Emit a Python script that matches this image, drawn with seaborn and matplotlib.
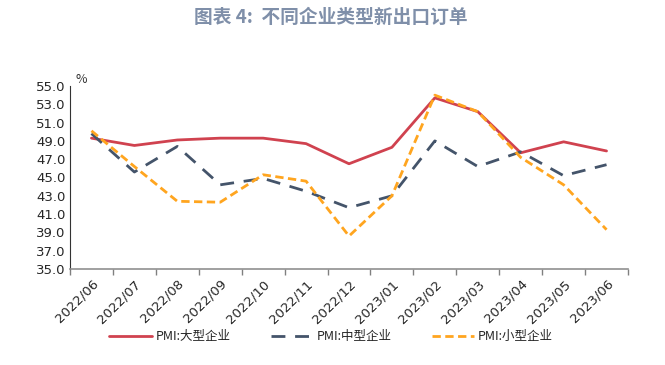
import matplotlib
matplotlib.use("Agg")
import matplotlib.pyplot as plt
import seaborn as sns
import pandas as pd
import numpy as np

months = ["2022/06", "2022/07", "2022/08", "2022/09", "2022/10", "2022/11", "2022/12",
          "2023/01", "2023/02", "2023/03", "2023/04", "2023/05", "2023/06"]
large = [49.3, 48.5, 49.1, 49.3, 49.3, 48.7, 46.5, 48.3, 53.7, 52.2, 47.7, 48.9, 47.9]
medium = [49.8, 45.6, 48.4, 44.2, 44.9, 43.5, 41.7, 43.0, 49.0, 46.2, 47.8, 45.2, 46.4]
small = [50.1, 46.2, 42.4, 42.3, 45.3, 44.6, 38.6, 43.0, 54.0, 52.2, 47.2, 44.2, 39.3]
series_names = ["PMI:大型企业", "PMI:中型企业", "PMI:小型企业"]
yticks = [35.0, 37.0, 39.0, 41.0, 43.0, 45.0, 47.0, 49.0, 51.0, 53.0, 55.0]

sns.set_theme(style="white")
plt.rcParams['font.family'] = ['Noto Sans CJK SC', 'DejaVu Sans']

fig = plt.figure(figsize=(6.65, 3.65), dpi=100)
ax = fig.add_axes([70/665, 1-269/365, (628-70)/665, (269-86)/365])

x = np.arange(len(months))
colors = ["#D0424F", "#44546A", "#FFA51F"]
styles = [dict(linestyle="-"), dict(dashes=(5, 3.5)), dict(dashes=(3, 1.6))]
for name, vals, c, st in zip(series_names, [large, medium, small], colors, styles):
    df = pd.DataFrame({"x": x, "y": vals})
    sns.lineplot(data=df, x="x", y="y", ax=ax, color=c, linewidth=2.0, label=name, **st)

ax.set_xlim(-0.5, len(months) - 0.5)
ax.set_ylim(35, 55)
ax.set_yticks(yticks)
ax.set_yticklabels([f"{v:.1f}" for v in yticks], fontsize=9.5, family=['DejaVu Sans'])
ax.set_xticks(x)
ax.set_xticklabels(months, rotation=45, ha="right", rotation_mode="anchor", fontsize=9.5,
                   family=['DejaVu Sans'])
ax.set_xticks(np.arange(-0.5, len(months)), minor=True)
ax.tick_params(axis="x", which="major", length=0, pad=6)
ax.tick_params(axis="x", which="minor", length=4, color="#808080", width=1, direction="out", bottom=True)
ax.tick_params(axis="y", length=0, pad=3)
ax.set_xlabel("")
ax.set_ylabel("")
for s in ["top", "right"]:
    ax.spines[s].set_visible(False)
ax.spines["left"].set_color("#333333")
ax.spines["left"].set_linewidth(0.8)
ax.spines["bottom"].set_color("#909090")
ax.spines["bottom"].set_linewidth(1.2)
ax.grid(False)

ax.text(0.01, 1.0, "%", transform=ax.transAxes, fontsize=9, color="#333333", va="bottom", ha="left")

fig.text(0.498, 0.952, "图表 4:  不同企业类型新出口订单", ha="center", va="center",
         fontsize=13.5, fontweight="bold", color="#7F8FA9")

ax.legend(loc="center", bbox_to_anchor=(0.468, -0.37), ncol=3, frameon=False, fontsize=9,
          handlelength=3.4, handletextpad=0.3, columnspacing=3.2)

fig.savefig("out.png", dpi=100)
